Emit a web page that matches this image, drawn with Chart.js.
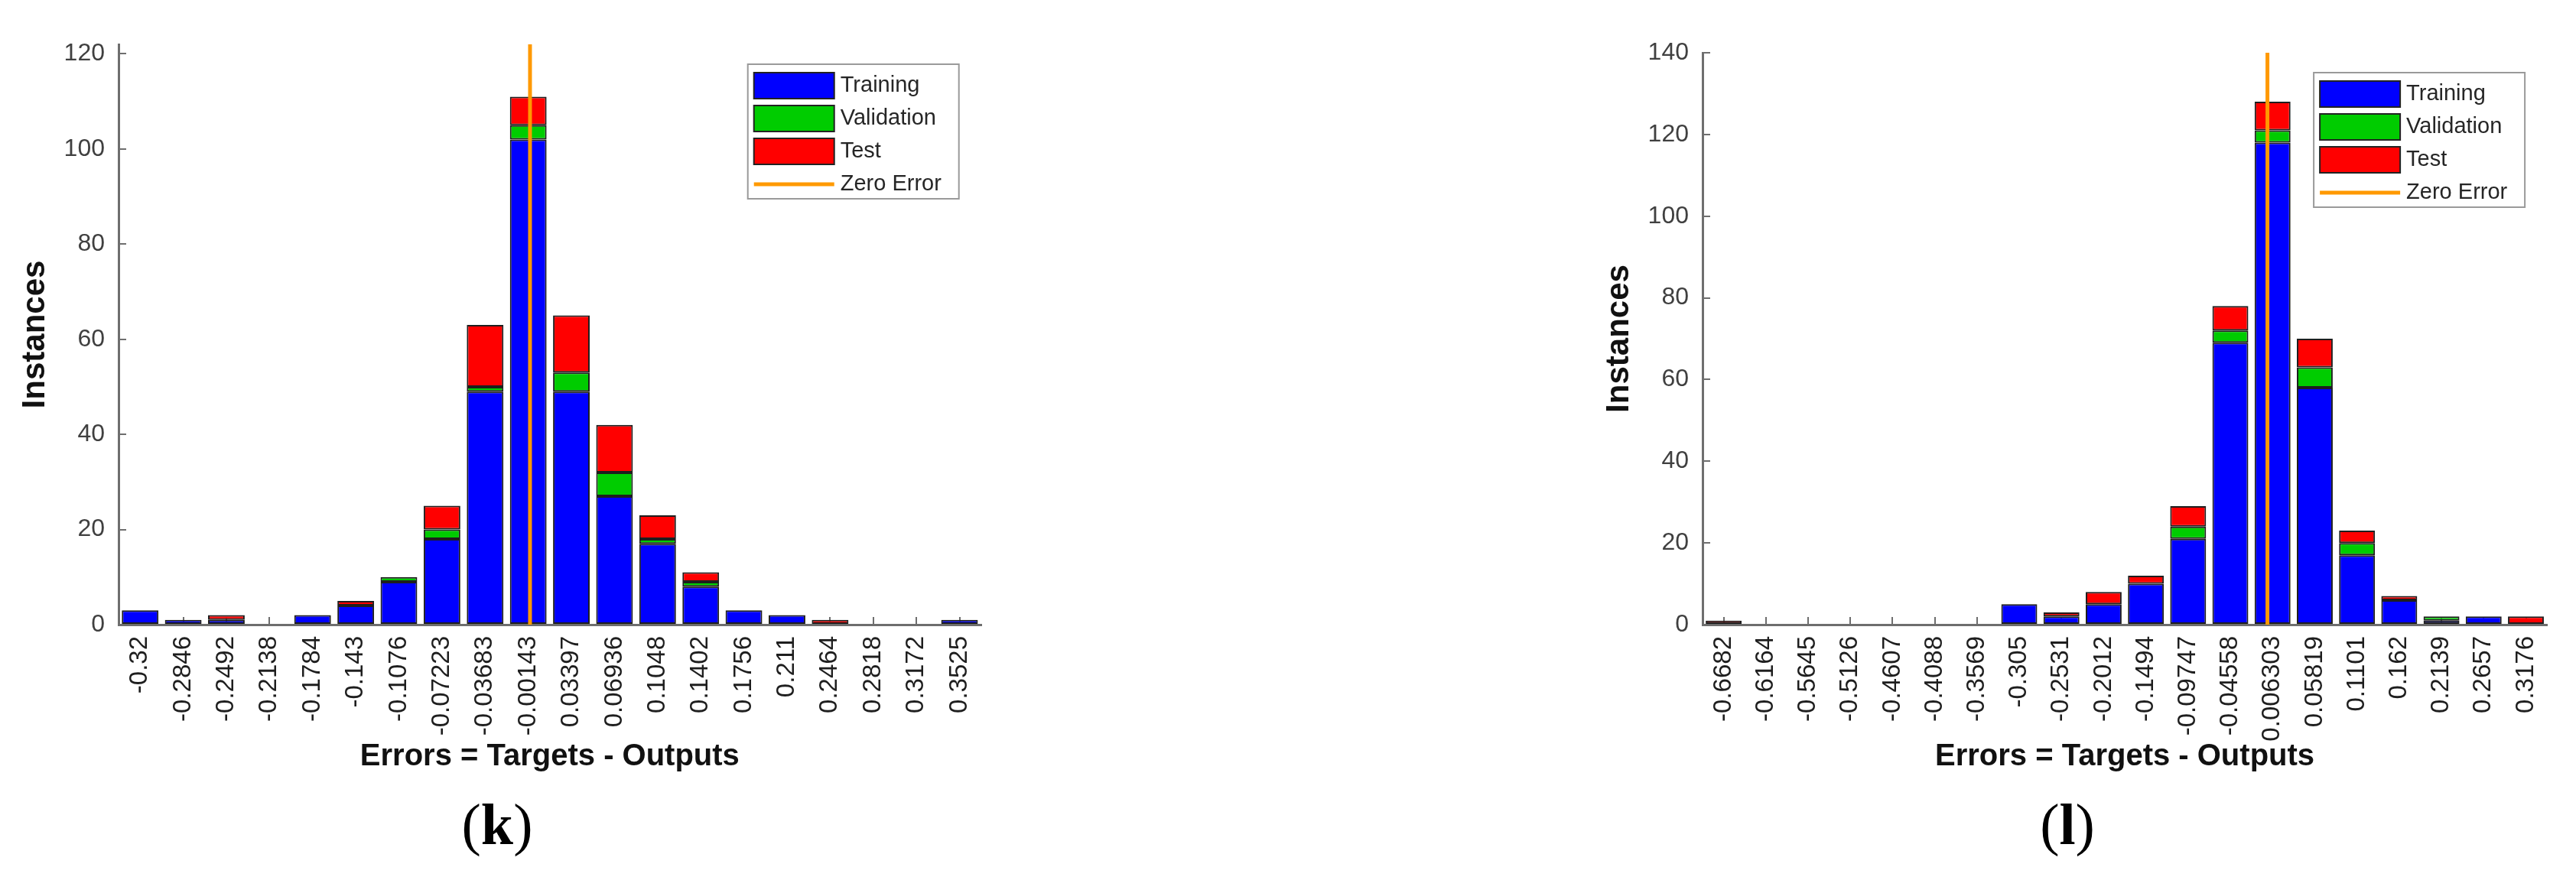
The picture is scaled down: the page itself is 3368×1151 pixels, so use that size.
<!DOCTYPE html>
<html>
<head>
<meta charset="utf-8">
<script src="https://cdn.jsdelivr.net/npm/chart.js@4.4.0/dist/chart.umd.min.js"></script>
<style>
  body { margin: 0; background: #fff; width: 3368px; height: 1151px; position: relative; overflow: hidden; }
  canvas { position: absolute; top: 0; }
  .tag { position: absolute; top: 1040px; font-family: "Liberation Serif", "DejaVu Serif", serif; font-size: 76px; line-height: 1; color: #000; transform: translateX(-50%); }
</style>
</head>
<body>
<canvas id="chartK" width="1320" height="1020" style="left:0px"></canvas>
<canvas id="chartL" width="1297" height="1020" style="left:2071px"></canvas>
<div class="tag" style="left:650px">(<b>k</b>)</div>
<div class="tag" style="left:2703px">(<b>l</b>)</div>
<script>
// histograma (k)
const kBins = ['-0.32', '-0.2846', '-0.2492', '-0.2138', '-0.1784', '-0.143', '-0.1076', '-0.07223', '-0.03683', '-0.00143',
               '0.03397', '0.06936', '0.1048', '0.1402', '0.1756', '0.211', '0.2464', '0.2818', '0.3172', '0.3525'];
const kTraining   = [3, 1, 1, 0, 2, 4, 9, 18, 49, 102, 49, 27, 17, 8, 3, 2, 0, 0, 0, 1];
const kValidation = [0, 0, 0, 0, 0, 0, 1, 2, 1, 3, 4, 5, 1, 1, 0, 0, 0, 0, 0, 0];
const kTest       = [0, 0, 1, 0, 0, 1, 0, 5, 13, 6, 12, 10, 5, 2, 0, 0, 1, 0, 0, 0];
const kYMax = 122;

// histograma (l)
const lBins = ['-0.6682', '-0.6164', '-0.5645', '-0.5126', '-0.4607', '-0.4088', '-0.3569', '-0.305', '-0.2531', '-0.2012',
               '-0.1494', '-0.09747', '-0.04558', '0.006303', '0.05819', '0.1101', '0.162', '0.2139', '0.2657', '0.3176'];
const lTraining   = [0, 0, 0, 0, 0, 0, 0, 5, 2, 5, 10, 21, 69, 118, 58, 17, 6, 1, 2, 0];
const lValidation = [0, 0, 0, 0, 0, 0, 0, 0, 0, 0, 0, 3, 3, 3, 5, 3, 0, 1, 0, 0];
const lTest       = [1, 0, 0, 0, 0, 0, 0, 0, 1, 3, 2, 5, 6, 7, 7, 3, 1, 0, 0, 2];
const lYMax = 140;

const yStep = 20;
const zeroError = 0;

Chart.defaults.font.family = '"Liberation Sans", Arial, sans-serif';

// legenda com caixa, dentro da area do grafico (estilo matlab)
const boxLegend = {
  id: 'boxLegend',
  afterDraw(chart) {
    const { ctx, chartArea } = chart;
    const w = 276, h = 176;
    const x0 = chartArea.right - 29 - w;
    const y0 = chartArea.top + 26;
    ctx.save();
    ctx.fillStyle = '#fff';
    ctx.fillRect(x0, y0, w, h);
    ctx.strokeStyle = '#9a9a9a';
    ctx.lineWidth = 2;
    ctx.strokeRect(x0, y0, w, h);
    ctx.font = '29px "Liberation Sans", Arial, sans-serif';
    ctx.textBaseline = 'middle';
    chart.data.datasets.forEach((ds, i) => {
      const cy = y0 + 28 + i * 43;
      if (ds.type === 'line') {
        ctx.strokeStyle = ds.borderColor;
        ctx.lineWidth = 5;
        ctx.beginPath();
        ctx.moveTo(x0 + 8, cy);
        ctx.lineTo(x0 + 113, cy);
        ctx.stroke();
      } else {
        ctx.fillStyle = ds.backgroundColor;
        ctx.fillRect(x0 + 8, cy - 17, 105, 34);
        ctx.strokeStyle = '#222';
        ctx.lineWidth = 2;
        ctx.strokeRect(x0 + 8, cy - 17, 105, 34);
      }
      ctx.fillStyle = '#262626';
      ctx.fillText(ds.label, x0 + 121, cy);
    });
    ctx.restore();
  }
};

function makeHist(id, bins, training, validation, test, yMax, padTop, padRight) {
  const canvas = document.getElementById(id);
  const centers = bins.map(Number);
  const half = (centers[centers.length - 1] - centers[0]) / (centers.length - 1) / 2;
  const barStyle = { borderColor: '#1e1e1e', borderWidth: 2, borderSkipped: false, stack: 'hist', grouped: false,
                     barPercentage: 0.85, categoryPercentage: 1, order: 1 };

  new Chart(canvas.getContext('2d'), {
    type: 'bar',
    data: {
      labels: bins,
      datasets: [
        { label: 'Training', data: training, backgroundColor: '#0000ff', ...barStyle },
        { label: 'Validation', data: validation, backgroundColor: '#00cc00', ...barStyle },
        { label: 'Test', data: test, backgroundColor: '#ff0000', ...barStyle },
        {
          type: 'line', label: 'Zero Error',
          data: [{ x: zeroError, y: 0 }, { x: zeroError, y: yMax }],
          xAxisID: 'x2', stack: 'zero', order: -1,
          borderColor: '#ff9900', borderWidth: 5, pointRadius: 0
        }
      ]
    },
    options: {
      responsive: false,
      animation: false,
      layout: { padding: { left: 0, top: padTop, right: padRight, bottom: 0 } },
      plugins: { legend: { display: false }, tooltip: { enabled: false } },
      scales: {
        x: {
          stacked: true,
          offset: true,
          afterFit: (s) => { s.height = canvas.height - 817; },
          grid: { offset: false, drawOnChartArea: false, tickLength: -10, color: '#6e6e6e', lineWidth: 2 },
          border: { color: '#6e6e6e', width: 3 },
          ticks: { autoSkip: false, minRotation: 90, maxRotation: 90, padding: 25, color: '#1e1e1e', font: { size: 33 } },
          title: { display: true, text: 'Errors = Targets - Outputs', color: '#111',
                   font: { size: 40, weight: 'bold' }, padding: { top: 0, bottom: 6 } }
        },
        x2: {
          type: 'linear', display: false, offset: false,
          min: centers[0] - half, max: centers[centers.length - 1] + half
        },
        y: {
          stacked: true,
          min: 0, max: yMax,
          afterFit: (s) => { s.width = 155; },
          grid: { drawOnChartArea: false, tickLength: -10, color: '#6e6e6e', lineWidth: 2 },
          border: { color: '#6e6e6e', width: 3 },
          ticks: { stepSize: yStep, includeBounds: false, padding: 28, color: '#404040', font: { size: 32 } },
          title: { display: true, text: 'Instances', color: '#111',
                   font: { size: 42, weight: 'bold' }, padding: { top: 21, bottom: 0 } }
        }
      }
    },
    plugins: [boxLegend]
  });
}

makeHist('chartK', kBins, kTraining, kValidation, kTest, kYMax, 58, 35);
makeHist('chartL', lBins, lTraining, lValidation, lTest, lYMax, 69, 36);
</script>
</body>
</html>
